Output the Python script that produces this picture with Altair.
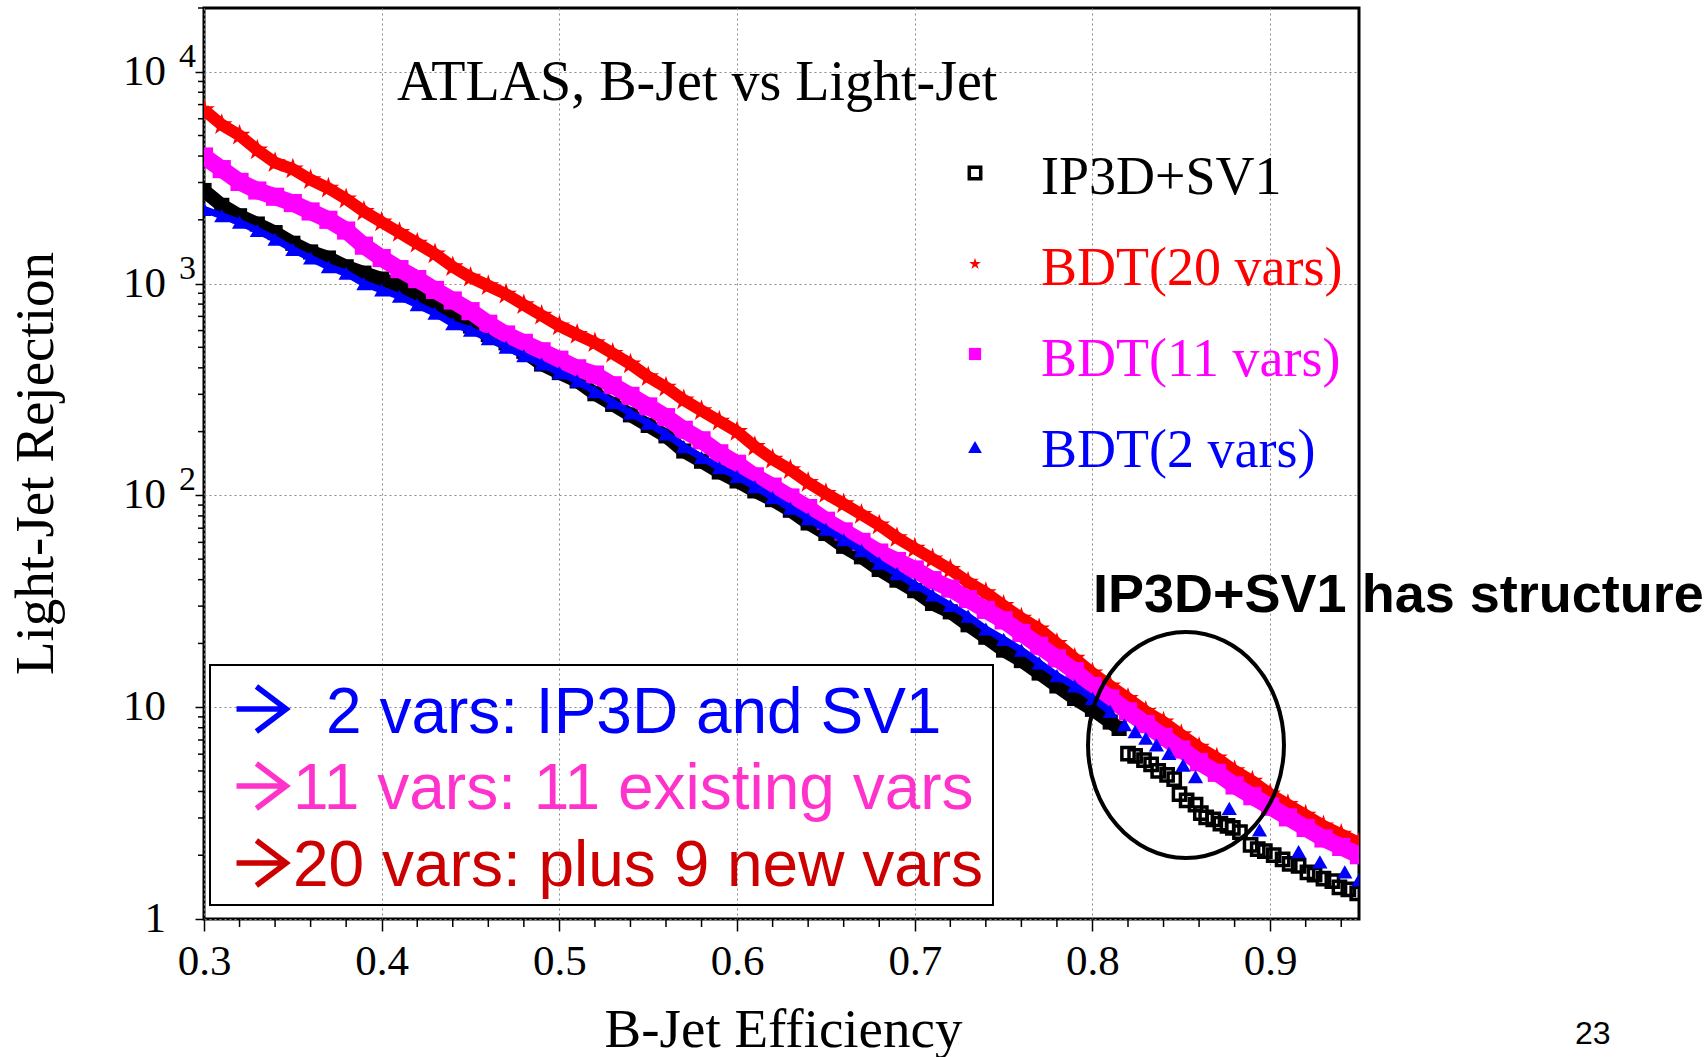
import altair as alt
import pandas as pd

# ---------------------------------------------------------------------------
# ROC-style curves: light-jet rejection versus b-jet efficiency
# ---------------------------------------------------------------------------
EFF = [0.30, 0.31, 0.32, 0.33, 0.34, 0.35, 0.36, 0.37, 0.38, 0.39,
       0.40, 0.41, 0.42, 0.43, 0.44, 0.45, 0.46, 0.47, 0.48, 0.49,
       0.50, 0.51, 0.52, 0.53, 0.54, 0.55, 0.56, 0.57, 0.58, 0.59,
       0.60, 0.61, 0.62, 0.63, 0.64, 0.65, 0.66, 0.67, 0.68, 0.69,
       0.70, 0.71, 0.72, 0.73, 0.74, 0.75, 0.76, 0.77, 0.78, 0.79,
       0.80, 0.81, 0.82, 0.83, 0.84, 0.85, 0.86, 0.87, 0.88, 0.89,
       0.90, 0.91, 0.92, 0.93, 0.94, 0.95]

BDT20_REJ = [6610, 5620, 5010, 4270, 3720, 3470, 3090, 2820, 2510, 2190,
             1950, 1740, 1550, 1380, 1200, 1070, 977, 891, 794, 708,
             631, 575, 525, 468, 417, 363, 324, 282, 251, 224,
             200, 170, 148, 132, 115, 102, 91.2, 81.3, 72.4, 63.1,
             56.2, 50.1, 44.7, 38.9, 34.7, 30.2, 26.3, 23.4, 20.0, 17.0,
             14.5, 12.6, 11.0, 9.55, 8.51, 7.41, 6.46, 5.75, 5.01, 4.47,
             3.89, 3.47, 3.09, 2.75, 2.51, 2.29]

BDT11_REJ = [3980, 3470, 3020, 2750, 2570, 2400, 2190, 2000, 1780, 1510,
             1320, 1170, 1050, 933, 832, 741, 646, 575, 525, 479,
             437, 398, 372, 331, 295, 263, 234, 204, 182, 158,
             141, 123, 110, 97.7, 87.1, 75.9, 67.6, 60.3, 53.7, 49.0,
             44.7, 39.8, 36.3, 32.4, 28.8, 25.7, 22.4, 19.5, 17.0, 14.8,
             12.6, 11.0, 9.55, 8.32, 7.24, 6.31, 5.50, 4.90, 4.27, 3.80,
             3.39, 3.02, 2.69, 2.40, 2.19, 2.00]

# IP3D+SV1: smooth part up to the step near 0.82, then the structured tail
IP3D_EFF = [0.30, 0.31, 0.32, 0.33, 0.34, 0.35, 0.36, 0.37, 0.38, 0.39,
            0.40, 0.41, 0.42, 0.43, 0.44, 0.45, 0.46, 0.47, 0.48, 0.49,
            0.50, 0.51, 0.52, 0.53, 0.54, 0.55, 0.56, 0.57, 0.58, 0.59,
            0.60, 0.61, 0.62, 0.63, 0.64, 0.65, 0.66, 0.67, 0.68, 0.69,
            0.70, 0.71, 0.72, 0.73, 0.74, 0.75, 0.76, 0.77, 0.78, 0.79,
            0.80, 0.81, 0.815]
IP3D_REJ = [2750, 2340, 2090, 1910, 1740, 1550, 1410, 1320, 1200, 1120,
            1050, 977, 891, 794, 708, 631, 575, 525, 479, 417,
            380, 347, 302, 269, 240, 214, 191, 162, 145, 129,
            117, 105, 95.5, 85.1, 74.1, 66.1, 57.5, 51.3, 44.7, 39.8,
            35.5, 30.9, 28.2, 24.5, 21.4, 18.6, 16.6, 14.5, 12.6, 11.0,
            9.77, 8.51, 7.94]
IP3D_TAIL_EFF = [0.820, 0.824, 0.829, 0.833, 0.837, 0.842, 0.846, 0.849, 0.853, 0.858,
                 0.861, 0.864, 0.868, 0.872, 0.876, 0.879, 0.883, 0.889, 0.893, 0.897,
                 0.902, 0.907, 0.911, 0.916, 0.921, 0.925, 0.930, 0.935, 0.939, 0.944,
                 0.949]
IP3D_TAIL_REJ = [6.03, 5.89, 5.62, 5.37, 5.01, 4.79, 4.57, 3.89, 3.63, 3.47,
                 3.16, 3.02, 2.95, 2.82, 2.75, 2.69, 2.57, 2.24, 2.14, 2.09,
                 2.00, 1.91, 1.82, 1.78, 1.66, 1.62, 1.55, 1.51, 1.41, 1.38,
                 1.32]

BDT2_EFF = [0.30, 0.31, 0.32, 0.33, 0.34, 0.35, 0.36, 0.37, 0.38, 0.39,
            0.40, 0.41, 0.42, 0.43, 0.44, 0.45, 0.46, 0.47, 0.48, 0.49,
            0.50, 0.51, 0.52, 0.53, 0.54, 0.55, 0.56, 0.57, 0.58, 0.59,
            0.60, 0.61, 0.62, 0.63, 0.64, 0.65, 0.66, 0.67, 0.68, 0.69,
            0.70, 0.71, 0.72, 0.73, 0.74, 0.75, 0.76, 0.77, 0.78, 0.79,
            0.80, 0.81]
BDT2_REJ = [2240, 2090, 1950, 1780, 1620, 1450, 1320, 1200, 1120, 1000,
            933, 871, 794, 724, 646, 603, 550, 501, 457, 417,
            380, 347, 309, 275, 245, 219, 195, 170, 151, 135,
            123, 110, 97.7, 87.1, 77.6, 69.2, 61.7, 55.0, 47.9, 42.7,
            38.0, 33.9, 30.2, 26.9, 23.4, 20.9, 18.6, 16.2, 14.1, 12.6,
            11.0, 9.55]
BDT2_TAIL_EFF = [0.818, 0.824, 0.830, 0.836, 0.843, 0.851, 0.858, 0.877, 0.894, 0.916,
                 0.928, 0.942, 0.950]
BDT2_TAIL_REJ = [8.26, 7.67, 7.13, 6.64, 6.05, 5.33, 4.70, 3.33, 2.63, 2.08,
                 1.86, 1.67, 1.53]

# Axis ticks and labels
X_MAJOR = [0.3, 0.4, 0.5, 0.6, 0.7, 0.8, 0.9]
X_MINOR = [0.32, 0.34, 0.36, 0.38, 0.42, 0.44, 0.46, 0.48, 0.52, 0.54, 0.56, 0.58,
           0.62, 0.64, 0.66, 0.68, 0.72, 0.74, 0.76, 0.78, 0.82, 0.84, 0.86, 0.88,
           0.92, 0.94]
Y_MAJOR = [1, 10, 100, 1000, 10000]
Y_BASE = ["1", "10", "10", "10", "10"]
Y_EXP = ["", "", "2", "3", "4"]
Y_MINOR = [2, 3, 4, 5, 6, 7, 8, 9,
           20, 30, 40, 50, 60, 70, 80, 90,
           200, 300, 400, 500, 600, 700, 800, 900,
           2000, 3000, 4000, 5000, 6000, 7000, 8000, 9000, 20000]

# Legend entries and the explanatory note
LEGEND_LABELS = ["IP3D+SV1", "BDT(20 vars)", "BDT(11 vars)", "BDT(2 vars)"]
LEGEND_COLORS = ["black", "#ff0000", "#ff00ff", "#0000ff"]
NOTE_LINES = ["2 vars: IP3D and SV1", "11 vars: 11 existing vars", "20 vars: plus 9 new vars"]
NOTE_COLORS = ["#0000ff", "#ff33cc", "#cc0000"]

SERIF = "Liberation Serif"
SANS = "Liberation Sans"
W, H = 1155, 911

# symbol paths drawn in the unit box: star, note arrow, highlight ellipse
STAR = ("M 0 -1 L 0.225 -0.309 L 0.951 -0.309 L 0.363 0.118 L 0.588 0.809 "
        "L 0 0.382 L -0.588 0.809 L -0.363 0.118 L -0.951 -0.309 L -0.225 -0.309 Z")
ARROW = "M -1 0 L 0.95 0 M -0.22 -0.88 L 0.95 0 L -0.22 0.88"
ELLIPSE = "M -0.867 0 A 0.867 1 0 1 1 0.867 0 A 0.867 1 0 1 1 -0.867 0 Z"

xscale = alt.Scale(domain=[0.3, 0.95], nice=False, zero=False)
yscale = alt.Scale(type="log", domain=[1, 20000], nice=False)

x_axis = alt.Axis(
    values=X_MAJOR, format=".1f", grid=True, gridDash=[2, 3], gridColor="#8a8a8a",
    gridWidth=1, domain=False, tickSize=12, tickWidth=1.5, tickColor="black",
    labelFont=SERIF, labelFontSize=43, labelColor="black", labelPadding=9,
    labelFlush=False, labelOverlap=False,
    title="B-Jet Efficiency", titleFont=SERIF, titleFontSize=55,
    titleFontWeight="normal", titleColor="black", titleX=579, titleY=127,
    titleBaseline="alphabetic", titleAlign="center")
y_axis = alt.Axis(
    values=Y_MAJOR, labels=False, grid=True, gridDash=[2, 3], gridColor="#8a8a8a",
    gridWidth=1, domain=False, tickSize=9, tickWidth=1.5, tickColor="black",
    title="Light-Jet Rejection", titleFont=SERIF, titleFontSize=55,
    titleFontWeight="normal", titleColor="black", titleAngle=270, titleX=-152,
    titleY=455, titleBaseline="alphabetic", titleAlign="center")


def X(field="eff"):
    return alt.X(f"{field}:Q", scale=xscale, axis=x_axis)


def Y(field="rej"):
    return alt.Y(f"{field}:Q", scale=yscale, axis=y_axis)


def one_row():
    return pd.DataFrame({"k": [0]})


df_ip3d = pd.DataFrame({"eff": IP3D_EFF, "rej": IP3D_REJ})
df_ip3d_tail = pd.DataFrame({"eff": IP3D_TAIL_EFF, "rej": IP3D_TAIL_REJ})
df_bdt20 = pd.DataFrame({"eff": EFF, "rej": BDT20_REJ})
df_bdt11 = pd.DataFrame({"eff": EFF, "rej": BDT11_REJ})
df_bdt2 = pd.DataFrame({"eff": BDT2_EFF, "rej": BDT2_REJ})
df_bdt2_tail = pd.DataFrame({"eff": BDT2_TAIL_EFF, "rej": BDT2_TAIL_REJ})

layers = []

# IP3D+SV1: dense band, then open squares in the tail
layers.append(
    alt.Chart(df_ip3d).mark_line(color="black", strokeWidth=14, clip=True).encode(x=X(), y=Y()))
layers.append(
    alt.Chart(df_ip3d).mark_point(shape="square", filled=True, size=230, color="black",
                                  opacity=1, clip=True).encode(x=X(), y=Y()))
layers.append(
    alt.Chart(df_ip3d_tail).mark_point(shape="square", filled=False, size=150, color="black",
                                       strokeWidth=3.5, opacity=1, clip=True).encode(x=X(), y=Y()))

# BDT(20 vars): red stars
layers.append(
    alt.Chart(df_bdt20).mark_line(color="#ff0000", strokeWidth=12, clip=True).encode(x=X(), y=Y()))
layers.append(
    alt.Chart(df_bdt20).mark_point(shape=STAR, filled=True, size=520, color="#ff0000",
                                   opacity=1, clip=True).encode(x=X(), y=Y()))

# BDT(11 vars): magenta squares
layers.append(
    alt.Chart(df_bdt11).mark_line(color="#ff00ff", strokeWidth=17, clip=True).encode(x=X(), y=Y()))
layers.append(
    alt.Chart(df_bdt11).mark_point(shape="square", filled=True, size=330, color="#ff00ff",
                                   opacity=1, clip=True).encode(x=X(), y=Y()))

# BDT(2 vars): blue triangles riding on the black band
layers.append(
    alt.Chart(df_bdt2).mark_line(color="#0000ff", strokeWidth=7, clip=True).encode(x=X(), y=Y()))
layers.append(
    alt.Chart(df_bdt2).mark_point(shape="triangle-up", filled=True, size=230, color="#0000ff",
                                  opacity=1, clip=True).encode(x=X(), y=Y()))
layers.append(
    alt.Chart(df_bdt2_tail).mark_point(shape="triangle-up", filled=True, size=230,
                                       color="#0000ff", opacity=1, clip=True).encode(x=X(), y=Y()))

# Minor ticks outside the frame
layers.append(
    alt.Chart(pd.DataFrame({"eff": X_MINOR})).mark_rule(color="black", strokeWidth=1.5).encode(
        x=X(), y=alt.value(H), y2=alt.value(H + 8)))
layers.append(
    alt.Chart(pd.DataFrame({"rej": Y_MINOR})).mark_rule(color="black", strokeWidth=1.5).encode(
        y=Y(), x=alt.value(-6), x2=alt.value(0)))

# Y tick labels in ROOT style: base with a raised exponent
df_ylab = pd.DataFrame({"rej": Y_MAJOR, "base": Y_BASE, "exp": Y_EXP})
layers.append(
    alt.Chart(df_ylab).mark_text(font=SERIF, fontSize=43, align="right", baseline="middle",
                                 color="black").encode(
        y=Y(), x=alt.value(-38), text="base:N"))
layers.append(
    alt.Chart(df_ylab).mark_text(font=SERIF, fontSize=34, align="left", baseline="middle",
                                 dy=-15, color="black").encode(
        y=Y(), x=alt.value(-25), text="exp:N"))

# Plot title inside the frame
layers.append(
    alt.Chart(one_row()).mark_text(text="ATLAS, B-Jet vs Light-Jet", font=SERIF, fontSize=56,
                                   align="left", baseline="alphabetic", color="black").encode(
        x=alt.value(193), y=alt.value(92)))

# Legend
legend_marks = [
    dict(shape="square", filled=False, size=130, strokeWidth=3.5),
    dict(shape=STAR, filled=True, size=150),
    dict(shape="square", filled=True, size=150),
    dict(shape="triangle-up", filled=True, size=190),
]
legend_y = [165, 256, 346, 439]
legend_base = [186, 277, 368, 459]
for label, color, mk, my, base in zip(LEGEND_LABELS, LEGEND_COLORS, legend_marks,
                                      legend_y, legend_base):
    layers.append(
        alt.Chart(one_row()).mark_point(color=color, opacity=1, **mk).encode(
            x=alt.value(771), y=alt.value(my)))
    layers.append(
        alt.Chart(one_row()).mark_text(text=label, font=SERIF, fontSize=54, align="left",
                                       baseline="alphabetic", color=color).encode(
            x=alt.value(837), y=alt.value(base)))

# Explanatory note box
layers.append(
    alt.Chart(one_row()).mark_rect(fillOpacity=0, stroke="black", strokeWidth=2).encode(
        x=alt.value(6), x2=alt.value(789), y=alt.value(657), y2=alt.value(897)))
note_x = [122, 89, 89]
note_base = [725, 801, 878]
arrow_y = [701, 778, 855]
for line, color, nx, nb, ay in zip(NOTE_LINES, NOTE_COLORS, note_x, note_base, arrow_y):
    layers.append(
        alt.Chart(one_row()).mark_point(shape=ARROW, size=2601, filled=False, color=color,
                                        strokeWidth=5.5, opacity=1).encode(
            x=alt.value(58), y=alt.value(ay)))
    layers.append(
        alt.Chart(one_row()).mark_text(text=line, font=SANS, fontSize=64, align="left",
                                       baseline="alphabetic", color=color).encode(
            x=alt.value(nx), y=alt.value(nb)))

# Highlight of the IP3D+SV1 structure
layers.append(
    alt.Chart(one_row()).mark_point(shape=ELLIPSE, size=51076, filled=False, color="black",
                                    strokeWidth=4, opacity=1).encode(
        x=alt.value(982), y=alt.value(737)))
layers.append(
    alt.Chart(one_row()).mark_text(text="IP3D+SV1 has structure", font=SANS, fontSize=54,
                                   fontWeight="bold", align="left", baseline="alphabetic",
                                   color="black").encode(
        x=alt.value(889), y=alt.value(604)))

# Slide page number
layers.append(
    alt.Chart(one_row()).mark_text(text="23", font=SANS, fontSize=32, align="left",
                                   baseline="alphabetic", color="black").encode(
        x=alt.value(1371), y=alt.value(1036)))

chart = alt.layer(*layers).properties(
    width=W, height=H,
    autosize=alt.AutoSizeParams(type="none"),
    padding={"left": 204, "top": 8, "right": 346, "bottom": 138},
    background="white",
).configure_view(stroke="black", strokeWidth=3)

chart.save("out.html", embed_options={"renderer": "svg", "actions": False})
